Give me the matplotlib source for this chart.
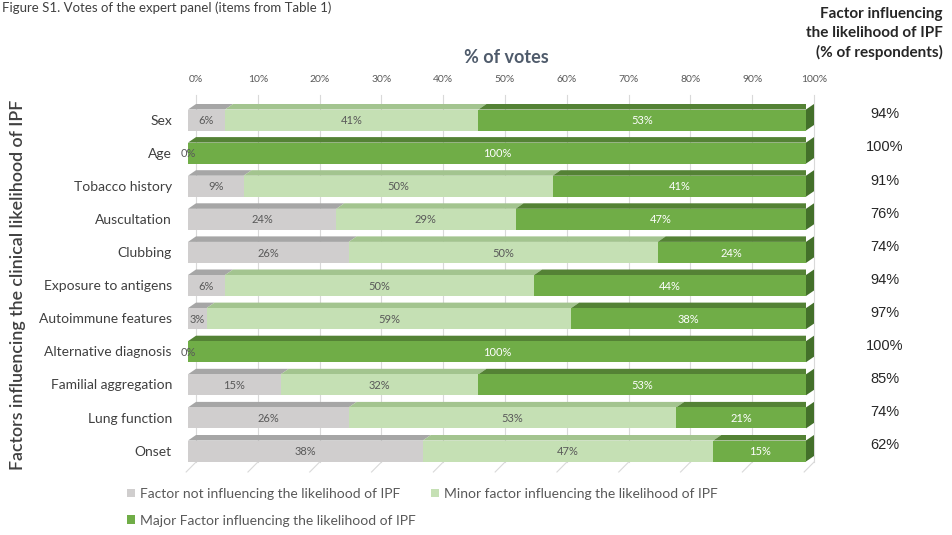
import matplotlib
matplotlib.use("Agg")
import matplotlib.pyplot as plt
from matplotlib.patches import Polygon, Patch

plt.rcParams['font.family'] = ['Lato', 'DejaVu Sans']

categories = ["Sex", "Age", "Tobacco history", "Auscultation", "Clubbing",
              "Exposure to antigens", "Autoimmune features", "Alternative diagnosis",
              "Familial aggregation", "Lung function", "Onset"]
not_influencing = [6, 0, 9, 24, 26, 6, 3, 0, 15, 26, 38]
minor_factor = [41, 0, 50, 29, 50, 50, 59, 0, 32, 53, 47]
major_factor = [53, 100, 41, 47, 24, 44, 38, 100, 53, 21, 15]
respondents = [94, 100, 91, 76, 74, 94, 97, 100, 85, 74, 62]
xticks = [0, 10, 20, 30, 40, 50, 60, 70, 80, 90, 100]
series_names = ["Factor not influencing the likelihood of IPF",
                "Minor factor influencing the likelihood of IPF",
                "Major Factor influencing the likelihood of IPF"]

front_cols = ["#d0cece", "#c5e0b4", "#70ad47"]
top_cols = ["#a6a6a6", "#a3c48f", "#548235"]
side_col = "#43702a"
label_cols = ["#595959", "#595959", "#ffffff"]

W, H = 952, 535
fig = plt.figure(figsize=(W / 100, H / 100), dpi=100)
left_px, right_px, top_px, bot_px = 188, 806, 95, 472
ax = fig.add_axes([left_px / W, 1 - bot_px / H, (right_px - left_px) / W, (bot_px - top_px) / H])
row0, step = 120.0, 33.1
ax.set_xlim(0, 100)
ax.set_ylim((bot_px - row0) / step, (top_px - row0) / step)
for s in ax.spines.values():
    s.set_visible(False)
ax.set_xticks([])
ax.set_yticks([])

px_x = 100 / (right_px - left_px)
dx = 8 * px_x
dy = 5.5 / step
h = 21 / step
n = len(categories)
ys = list(range(n))

# gridlines (back wall) and floor ticks
ybot = (bot_px - row0) / step
ytop = (top_px - row0) / step
for t in xticks:
    ax.plot([t + dx, t + dx], [ybot - 0.3, ytop], color="#d9d9d9", lw=0.8, zorder=0, clip_on=False)
    ax.plot([t - 0.3, t + dx], [ybot + 0.0, ybot - 0.3], color="#d9d9d9", lw=0.8, zorder=0, clip_on=False)
    ax.text(t + dx, ytop - 0.46, f"{t}%", ha="center", va="center", fontsize=7.5, color="#595959")

series = [not_influencing, minor_factor, major_factor]
lefts = [0] * n
for si, vals in enumerate(series):
    ax.barh(ys, vals, left=lefts, height=h, color=front_cols[si], zorder=3, linewidth=0)
    for i in range(n):
        x0 = lefts[i]
        x1 = x0 + vals[i]
        yt = ys[i] - h / 2
        if vals[i] > 0:
            ax.add_patch(Polygon([(x0, yt), (x1, yt), (x1 + dx, yt - dy), (x0 + dx, yt - dy)],
                                 closed=True, facecolor=top_cols[si], edgecolor="none", zorder=2))
        if not (vals[i] == 0 and si == 1):
            col = label_cols[si] if vals[i] > 0 else "#595959"
            ax.text(x0 + vals[i] / 2, ys[i] + 0.02, f"{vals[i]}%", ha="center", va="center",
                    fontsize=8, color=col, zorder=5)
    lefts = [lefts[i] + vals[i] for i in range(n)]

# right side faces
for i in range(n):
    x1 = lefts[i]
    yt = ys[i] - h / 2
    yb = ys[i] + h / 2
    ax.add_patch(Polygon([(x1, yt), (x1 + dx, yt - dy), (x1 + dx, yb - dy), (x1, yb)],
                         closed=True, facecolor=side_col, edgecolor="none", zorder=4, clip_on=False))

# category labels
for i, c in enumerate(categories):
    ax.text(-2.6, ys[i] + 0.02, c, ha="right", va="center", fontsize=10, color="#404040")

# right column
for i, r in enumerate(respondents):
    ax.text(112.8, ys[i] - 0.17, f"{r}%", ha="center", va="center", fontsize=10.5,
            color="#262626", family=["Liberation Sans", "DejaVu Sans"], clip_on=False)

fig.text(943 / W, 1 - 7 / H, "Factor influencing\nthe likelihood of IPF\n(% of respondents)",
         ha="right", va="top", fontsize=11, fontweight="bold", color="#262626", linespacing=1.42,
         multialignment="right")
fig.text(2 / W, 1 - 8 / H, "Figure S1. Votes of the expert panel (items from Table 1)",
         ha="left", va="center", fontsize=9.5, color="#404040")
fig.text(506 / W, 1 - 57.5 / H, "% of votes", ha="center", va="center", fontsize=13,
         fontweight="bold", color="#4f5b6b")
fig.text(18 / W, 1 - 285 / H, "Factors influencing the clinical likelihood of IPF", rotation=90,
         ha="center", va="center", fontsize=12.8, fontweight="semibold", color="#404040")

handles = [Patch(facecolor=front_cols[k], edgecolor="none") for k in range(3)]
order = [0, 2, 1]
fig.legend([handles[k] for k in order], [series_names[k] for k in order], loc="upper left",
           bbox_to_anchor=(127 / W, 1 - 488 / H),
           ncol=2, frameon=False, fontsize=10, handlelength=0.55, handleheight=0.55,
           handletextpad=0.4, columnspacing=1.1, labelspacing=1.05, labelcolor="#595959",
           borderaxespad=0, borderpad=0)

fig.savefig("out.png", dpi=100, facecolor="white")
